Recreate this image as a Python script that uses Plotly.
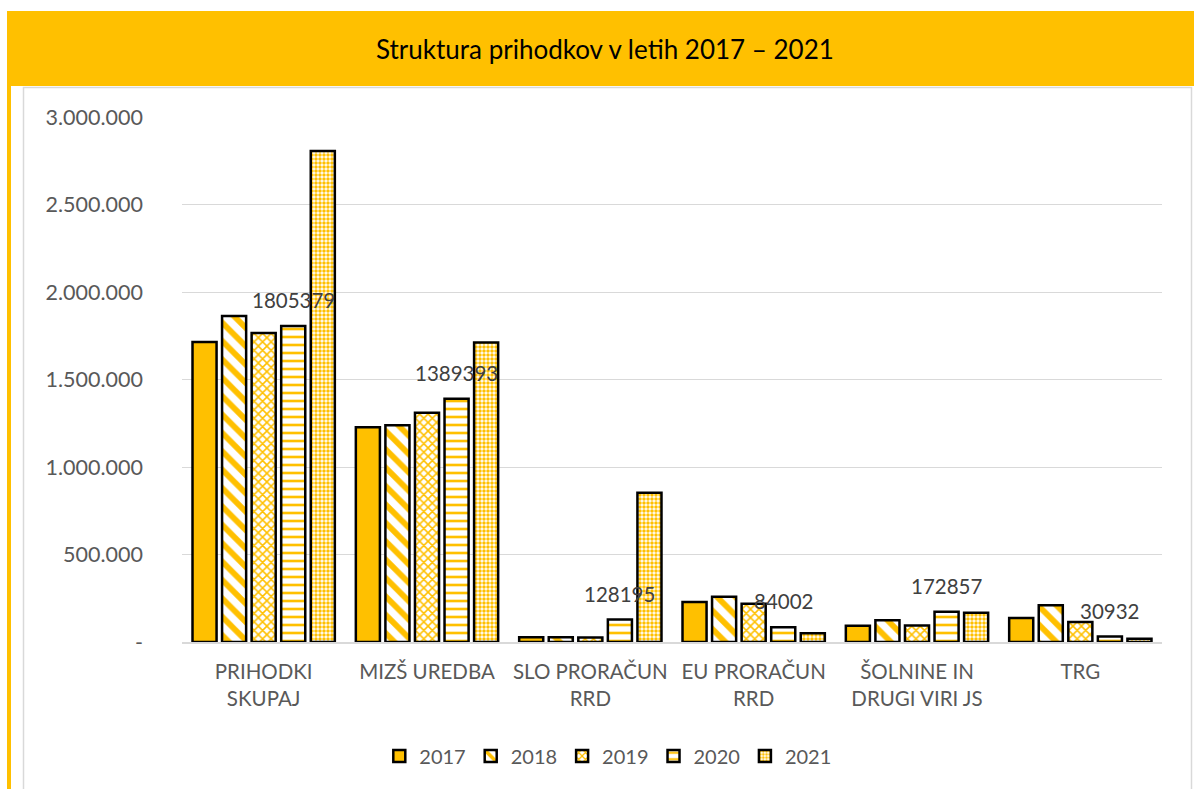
import plotly.graph_objects as go

categories = ["PRIHODKI<br>SKUPAJ", "MIZŠ UREDBA", "SLO PRORAČUN<br>RRD", "EU PRORAČUN<br>RRD",
              "ŠOLNINE IN<br>DRUGI VIRI JS", "TRG"]
years = ["2017", "2018", "2019", "2020", "2021"]
v2017 = [1714000, 1227000, 27000, 228000, 93000, 137000]
v2018 = [1863000, 1238000, 27000, 259000, 124000, 210000]
v2019 = [1766000, 1310000, 26000, 219000, 95000, 114000]
v2020 = [1805379, 1389393, 128195, 84002, 172857, 30932]
v2021 = [2806000, 1712000, 853000, 50000, 167000, 19000]
series = [v2017, v2018, v2019, v2020, v2021]
labelled_index = 3  # 2020 series carries data labels

tick_vals = [0, 500000, 1000000, 1500000, 2000000, 2500000, 3000000]
tick_text = ["-", "500.000", "1.000.000", "1.500.000", "2.000.000", "2.500.000", "3.000.000"]

title_text = "Struktura prihodkov v letih 2017 – 2021"

GOLD = "#FFC000"
FONT = "Lato, 'Open Sans', sans-serif"
W, H = 1194, 789
L, R, T, B = 182, 32, 117, 147
BARGAP, GROUPGAP = 0.095, 0.186

patterns = [
    dict(shape=""),
    dict(shape="\\", fgcolor=GOLD, bgcolor="white", size=13, solidity=0.45, fillmode="replace"),
    dict(shape="x", fgcolor=GOLD, bgcolor="white", size=6, solidity=0.45, fillmode="replace"),
    dict(shape="-", fgcolor=GOLD, bgcolor="white", size=8, solidity=0.33, fillmode="replace"),
    dict(shape=".", fgcolor=GOLD, bgcolor="white", size=4, solidity=0.6, fillmode="replace"),
]

fig = go.Figure()
for i, (yr, vals) in enumerate(zip(years, series)):
    color = GOLD if i == 0 else "white"
    fig.add_trace(go.Bar(
        name=yr, x=categories, y=vals,
        marker=dict(color=color, line=dict(color="black", width=2.5), pattern=patterns[i]),
    ))

def px_x(p):
    return (p - L) / (W - L - R)

def px_y(p):
    return (H - B - p) / (H - T - B)

# data labels for the 2020 series, drawn on top of all bars
cat_w = (W - L - R) / len(categories)
pitch = (1 - BARGAP) * cat_w / len(years)
offset_px = (labelled_index - (len(years) - 1) / 2) * pitch
annotations = [dict(text=title_text, xref="paper", yref="paper", x=px_x(605), y=px_y(49),
                    xanchor="center", yanchor="middle", showarrow=False,
                    font=dict(family=FONT, size=26, color="black"))]
for c, v in zip(categories, series[labelled_index]):
    annotations.append(dict(x=c, y=v, xref="x", yref="y", text=str(v), showarrow=False,
                            xanchor="center", yanchor="bottom", xshift=offset_px, yshift=12,
                            font=dict(family=FONT, size=20.5, color="#404040")))

shapes = [
    dict(type="rect", xref="paper", yref="paper", x0=px_x(7), x1=px_x(1194), y0=px_y(86), y1=px_y(11),
         fillcolor=GOLD, line=dict(width=0), layer="below"),
    dict(type="rect", xref="paper", yref="paper", x0=px_x(7), x1=px_x(11), y0=px_y(789), y1=px_y(86),
         fillcolor=GOLD, line=dict(width=0), layer="below"),
    dict(type="rect", xref="paper", yref="paper", x0=px_x(23.5), x1=px_x(1191.5), y0=px_y(795), y1=px_y(87.5),
         fillcolor="rgba(0,0,0,0)", line=dict(color="#D9D9D9", width=1.5), layer="below"),
]

fig.update_layout(
    width=W, height=H,
    margin=dict(l=L, r=R, t=T, b=B, autoexpand=False),
    paper_bgcolor="white", plot_bgcolor="white",
    barmode="group", bargap=BARGAP, bargroupgap=GROUPGAP,
    font=dict(family=FONT, color="#595959", size=18),
    shapes=shapes,
    annotations=annotations,
    legend=dict(orientation="h", x=0.435, xanchor="center", y=px_y(756), yanchor="middle",
                font=dict(family=FONT, size=20, color="#595959"), traceorder="normal",
                itemwidth=30, bgcolor="rgba(0,0,0,0)"),
    xaxis=dict(showline=True, linecolor="#D9D9D9", linewidth=1.5, ticks="", tickfont=dict(size=20.5),
               showgrid=False, ticklabelstandoff=11),
    yaxis=dict(range=[0, 3000000], tickvals=tick_vals, ticktext=tick_text, showgrid=True,
               gridcolor="#D9D9D9", gridwidth=1, zeroline=False, ticks="", ticklen=0,
               tickfont=dict(size=21.5), showline=False, ticklabelstandoff=38),
)

fig.write_html("out.html", config={"displayModeBar": False},
               post_script="document.body.style.margin='0';")
